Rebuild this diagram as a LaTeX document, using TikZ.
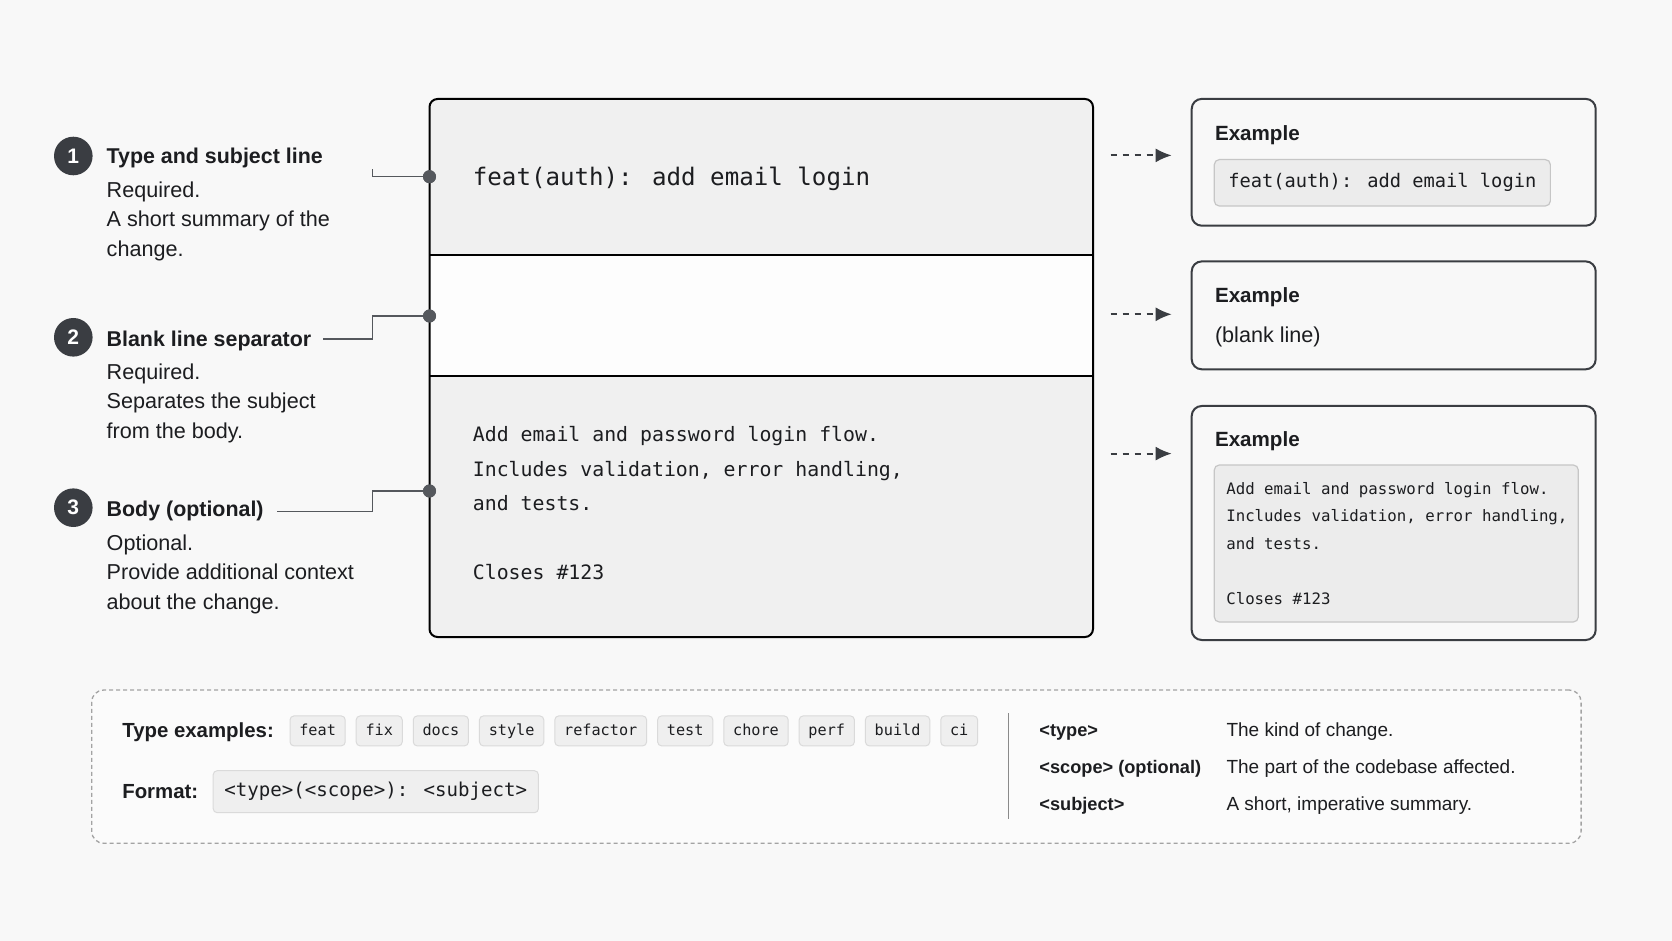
\documentclass[tikz,border=0pt]{standalone}
\usepackage{fontspec}
\setmainfont{Liberation Sans}
\newfontfamily\monof{DejaVu Sans Mono}
\usetikzlibrary{positioning,arrows.meta}
\definecolor{bgc}{HTML}{F8F8F8}
\definecolor{ink}{HTML}{1C1D20}
\definecolor{stroke}{HTML}{3A3D42}
\definecolor{lead}{HTML}{55585D}
\definecolor{mainfill}{HTML}{F0F0F0}
\definecolor{midfill}{HTML}{FDFDFD}
\definecolor{codefill}{HTML}{ECECEC}
\definecolor{codeline}{HTML}{C6C6C6}
\definecolor{tagfill}{HTML}{EFEFEF}
\definecolor{tagline}{HTML}{DADADA}
\definecolor{dashc}{HTML}{A3A3A3}
\definecolor{divc}{HTML}{8A8A8A}
\begin{document}
\begin{tikzpicture}[x=0.5pt,y=-0.5pt,
  every node/.style={inner sep=0pt, outer sep=0pt, text=ink},
  numcirc/.style={circle, fill=stroke, minimum size=19.3pt, text=white, font=\fontsize{10.5pt}{12pt}\selectfont\bfseries},
  ttl/.style={anchor=base west, font=\fontsize{10.7pt}{13pt}\selectfont\bfseries},
  desc/.style={anchor=base west, font=\fontsize{10.8pt}{14.75pt}\selectfont},
  leader/.style={draw=lead, line width=0.75pt},
  dot/.style={circle, fill=lead, minimum size=6.5pt},
  exbox/.style={draw=stroke, line width=1pt, rounded corners=5pt, fill=bgc, minimum width=202pt, anchor=north west},
  extitle/.style={anchor=base west, font=\fontsize{10.3pt}{12pt}\selectfont\bfseries},
  codebox/.style={draw=codeline, fill=codefill, line width=0.6pt, rounded corners=2.5pt},
  mainmono/.style={anchor=base west, font=\monof\fontsize{9.92pt}{12pt}\selectfont},
  smallmono/.style={anchor=base west, font=\monof\fontsize{7.87pt}{10pt}\selectfont},
  arr/.style={draw=stroke, line width=1pt, dash pattern=on 3.3pt off 2.7pt, -{Latex[length=8pt,width=7pt]}},
  tag/.style={draw=tagline, fill=tagfill, line width=0.5pt, rounded corners=2pt, inner xsep=4.65pt, minimum height=15pt, text height=5.8pt, text depth=1.6pt, font=\monof\fontsize{7.6pt}{9pt}\selectfont},
  key/.style={anchor=base west, font=\fontsize{9.1pt}{11pt}\selectfont\bfseries},
  kdesc/.style={anchor=base west, font=\fontsize{9.5pt}{11pt}\selectfont},
]
\fill[bgc] (0,0) rectangle (1672,941);
\useasboundingbox (0,0) rectangle (1672,941);

% left labels
\node[numcirc] (n1) at (73.3,156) {1};
\node[numcirc] (n2) at (73.3,337.3) {2};
\node[numcirc] (n3) at (73.3,507.7) {3};
\node[ttl] (t1) at (106.7,163.3) {Type and subject line};
\node[desc] (d1a) at (106.7,197.3) {Required.};
\node[desc] (d1b) at (106.7,226.8) {A short summary of the};
\node[desc] (d1c) at (106.7,256.3) {change.};
\node[ttl] (t2) at (106.7,346.7) {Blank line separator};
\node[desc] (d2a) at (106.7,379.3) {Required.};
\node[desc] (d2b) at (106.7,408.8) {Separates the subject};
\node[desc] (d2c) at (106.7,438.3) {from the body.};
\node[ttl] (t3) at (106.7,516.7) {Body (optional)};
\node[desc] (d3a) at (106.7,550) {Optional.};
\node[desc] (d3b) at (106.7,579.8) {Provide additional context};
\node[desc] (d3c) at (106.7,609.6) {about the change.};

% main message box
\fill[mainfill, rounded corners=4pt] (429.5,99) rectangle (1093,637);
\node[anchor=north west, minimum width=331.75pt, minimum height=78.2pt] (sec1) at (429.5,99) {};
\node[anchor=north west, fill=midfill, minimum width=331.75pt, minimum height=60.15pt] (sec2) at (429.5,255.4) {};
\node[anchor=north west, minimum width=331.75pt, minimum height=130.65pt] (sec3) at (429.5,375.7) {};
\draw[stroke, line width=1pt] (sec2.north west) -- (sec2.north east) (sec2.south west) -- (sec2.south east);
\draw[stroke, line width=1pt, rounded corners=4pt] (sec1.north west) rectangle (sec3.south east);

\node[anchor=base west, font=\monof\fontsize{12.07pt}{14pt}\selectfont] (subj) at (472.9,185.7) {feat(auth): add email login};
\node[mainmono] (b1) at (472.9,441.8) {Add email and password login flow.};
\node[mainmono] (b2) at (472.9,476.2) {Includes validation, error handling,};
\node[mainmono] (b3) at (472.9,510.6) {and tests.};
\node[mainmono] (b4) at (472.9,579.4) {Closes \#123};

% leaders
\coordinate (s1) at (372.3,169.3);
\coordinate (s2) at (323.3,339);
\coordinate (s3) at (277.3,511.7);
\node[dot] (p1) at (429.5,176.7) {};
\node[dot] (p2) at (429.5,316) {};
\node[dot] (p3) at (429.5,491) {};
\draw[leader] (s1) |- (p1);
\draw[leader] (s2) -- ++(49,0) |- (p2);
\draw[leader] (s3) -- ++(95,0) |- (p3);
\node[dot] at (p1) {};
\node[dot] at (p2) {};
\node[dot] at (p3) {};

% arrows
\coordinate (a1s) at (1110.7,155.4); \coordinate (a1e) at (1171.7,155.4);
\coordinate (a2s) at (1110.7,314.3); \coordinate (a2e) at (1171.7,314.3);
\coordinate (a3s) at (1110.7,453.6); \coordinate (a3e) at (1171.7,453.6);
\draw[arr] (a1s) -- (a1e);
\draw[arr] (a2s) -- (a2e);
\draw[arr] (a3s) -- (a3e);

% example boxes
\node[exbox, minimum height=63.4pt] (ex1) at (1191.7,98.9) {};
\node[exbox, minimum height=53.95pt] (ex2) at (1191.7,261.4) {};
\node[exbox, minimum height=117pt] (ex3) at (1191.7,406) {};
\node[extitle] (e1) at (1215,140.7) {Example};
\node[extitle] (e2) at (1215,303) {Example};
\node[extitle] (e3) at (1215,446.4) {Example};
\node[codebox, anchor=west, inner xsep=7pt, minimum height=23.2pt, text height=7pt, text depth=2pt, font=\monof\fontsize{9.36pt}{11pt}\selectfont] (c1) at (1214.3,182.8) {feat(auth): add email login};
\node[anchor=base west, font=\fontsize{10.8pt}{13pt}\selectfont] (bl) at (1215,342.9) {(blank line)};
\node[codebox, anchor=north west, minimum width=182pt, minimum height=78.5pt] (c3) at (1214.3,465) {};
\node[smallmono] (c3a) at (1226.3,494.3) {Add email and password login flow.};
\node[smallmono] (c3b) at (1226.3,521.8) {Includes validation, error handling,};
\node[smallmono] (c3c) at (1226.3,549.3) {and tests.};
\node[smallmono] (c3d) at (1226.3,604.3) {Closes \#123};

% legend
\node[draw=dashc, fill=bgc!60!white, line width=0.65pt, dash pattern=on 2pt off 1.5pt, rounded corners=6pt, anchor=north west, minimum width=744.7pt, minimum height=76.65pt] (legend) at (91.7,690) {};
\node[anchor=base west, font=\fontsize{10.2pt}{12pt}\selectfont\bfseries] (tex) at (122.3,737.3) {Type examples:};
\node[tag, anchor=west] (g1) at (290,730.9) {feat};
\node[tag, right=5.5pt of g1] (g2) {fix};
\node[tag, right=5.5pt of g2] (g3) {docs};
\node[tag, right=5.5pt of g3] (g4) {style};
\node[tag, right=5.5pt of g4] (g5) {refactor};
\node[tag, right=5.5pt of g5] (g6) {test};
\node[tag, right=5.5pt of g6] (g7) {chore};
\node[tag, right=5.5pt of g7] (g8) {perf};
\node[tag, right=5.5pt of g8] (g9) {build};
\node[tag, right=5.5pt of g9] (g10) {ci};
\node[anchor=base west, font=\fontsize{10.2pt}{12pt}\selectfont\bfseries] (fmt) at (122.3,798.3) {Format:};
\node[draw=tagline, fill=tagfill, line width=0.5pt, rounded corners=2pt, anchor=west, inner xsep=5.6pt, minimum height=21pt, text height=7.2pt, text depth=2pt, font=\monof\fontsize{9.55pt}{11pt}\selectfont] (fbox) at (213.2,791.7) {<type>(<scope>): <subject>};
\coordinate (v1) at (1008.6,713.3);
\coordinate (v2) at (1008.6,819.3);
\draw[divc, line width=0.75pt] (v1) -- (v2);
\node[key] (k1) at (1039.4,736) {<type>};
\node[key] (k2) at (1039.4,773.5) {<scope> (optional)};
\node[key] (k3) at (1039.4,810.8) {<subject>};
\node[kdesc] (k1d) at (1226.5,736) {The kind of change.};
\node[kdesc] (k2d) at (1226.5,773.5) {The part of the codebase affected.};
\node[kdesc] (k3d) at (1226.5,810.8) {A short, imperative summary.};
\end{tikzpicture}
\end{document}
